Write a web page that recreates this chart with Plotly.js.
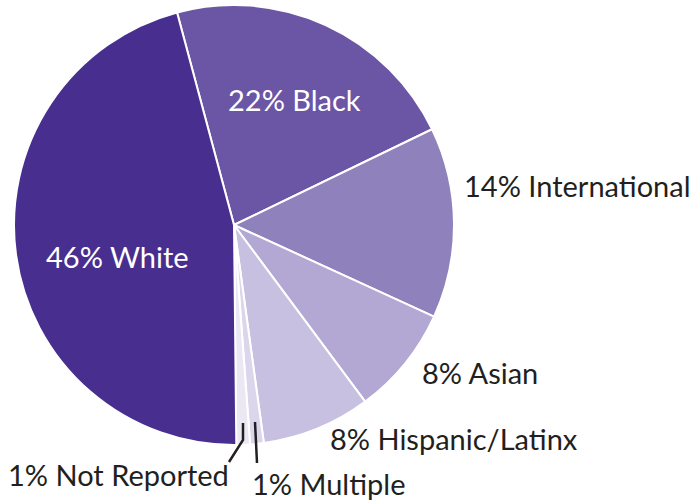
<!DOCTYPE html>
<html>
<head>
<meta charset="utf-8">
<script src="https://cdn.plot.ly/plotly-3.0.1.min.js"></script>
<style>html,body{margin:0;padding:0;background:#fff;}#chart{width:692px;height:502px;}</style>
</head>
<body>
<div id="chart"></div>
<script>
var categories = ["Black", "International", "Asian", "Hispanic/Latinx", "Multiple", "Not Reported", "White"];
var percents = [22, 14, 8, 8, 1, 1, 46];
var colors = ["#6b55a5", "#8f81bc", "#b2a8d3", "#c8c0e0", "#dcd6ec", "#ebe8f4", "#482e8f"];
var labelTexts = categories.map(function(c, i){ return percents[i] + "% " + c; });

var W = 692, H = 502;
function px(x){ return x / W; }
function py(y){ return 1 - y / H; }

// label anchor positions (pixels), layout only
var labelPos = [
  [294, 99, "#ffffff"],
  [577, 185, "#231f20"],
  [480, 372, "#231f20"],
  [454, 438, "#231f20"],
  [328, 483, "#231f20"],
  [118, 474, "#231f20"],
  [117, 256, "#ffffff"]
];

var annotations = labelTexts.map(function(t, i){
  return {
    text: t, x: px(labelPos[i][0]), y: py(labelPos[i][1]),
    xref: "paper", yref: "paper", xanchor: "center", yanchor: "middle",
    showarrow: false,
    font: {family: "Lato, sans-serif", size: 29, color: labelPos[i][2]}
  };
});

var shapes = [
  {type: "path", xref: "paper", yref: "paper",
   path: "M " + px(243) + "," + py(423) + " L " + px(243) + "," + py(440) + " L " + px(229) + "," + py(462),
   line: {color: "#231f20", width: 2.5}},
  {type: "line", xref: "paper", yref: "paper",
   x0: px(255), y0: py(422), x1: px(257), y1: py(463),
   line: {color: "#231f20", width: 2.5}}
];

var cx = 234, cy = 225, r = 220;
var data = [{
  type: "pie",
  labels: categories,
  values: percents,
  sort: false,
  direction: "clockwise",
  rotation: -15,
  textinfo: "none",
  hoverinfo: "label+percent",
  marker: {colors: colors, line: {color: "#ffffff", width: 2}},
  domain: {x: [px(cx - r), px(cx + r)], y: [py(cy + r), py(cy - r)]}
}];

var layout = {
  width: W, height: H,
  margin: {l: 0, r: 0, t: 0, b: 0},
  showlegend: false,
  paper_bgcolor: "#ffffff",
  annotations: annotations,
  shapes: shapes
};

Plotly.newPlot("chart", data, layout, {displayModeBar: false, staticPlot: true});
</script>
</body>
</html>
